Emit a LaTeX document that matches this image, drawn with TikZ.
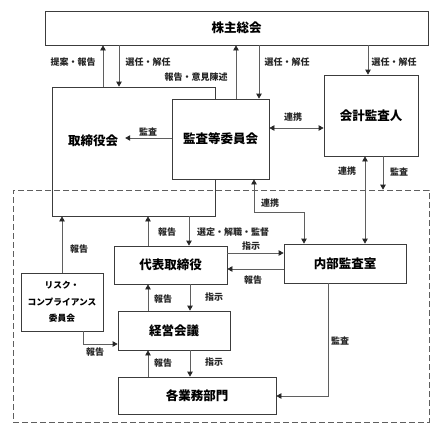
\documentclass[tikz,border=0pt]{standalone}
\usepackage{fontspec}
\setmainfont{Noto Sans CJK JP}
\usetikzlibrary{arrows.meta}
\definecolor{linecol}{RGB}{95,95,95}
\definecolor{boxcol}{RGB}{60,60,60}
\newcommand{\boxfont}{\fontsize{12.5}{15}\selectfont\bfseries}
\newcommand{\lblfont}{\fontsize{9}{11}\selectfont\bfseries}
\newcommand{\riskfont}{\fontsize{8.7}{16.5}\selectfont\bfseries}
\tikzset{
  box/.style={draw=boxcol, line width=0.8pt, fill=white, inner sep=0pt, font=\boxfont},
  lbl/.style={font=\lblfont, inner sep=0pt, text=black!85},
  arr/.style={draw=linecol, line width=0.8pt, -{Triangle[width=5.5pt,length=5pt,color=black!85]}},
  darr/.style={draw=linecol, line width=0.8pt, {Triangle[width=5.5pt,length=5pt,color=black!85]}-{Triangle[width=5.5pt,length=5pt,color=black!85]}},
  grp/.style={draw=linecol, line width=0.7pt, dash pattern=on 6pt off 3pt, inner sep=0pt}
}
\begin{document}
\begin{tikzpicture}[x=1pt,y=-1pt]
\useasboundingbox (0,0) rectangle (444,434);
% x and y guides
\coordinate (c62) at (62,0);
\coordinate (c83) at (83,0);
\coordinate (c103) at (103,0);
\coordinate (c119) at (119,0);
\coordinate (c148) at (148,0);
\coordinate (c189) at (189,0);
\coordinate (c190) at (190,0);
\coordinate (c236) at (236,0);
\coordinate (c254) at (254,0);
\coordinate (c259) at (259,0);
\coordinate (c304) at (304,0);
\coordinate (c328) at (328,0);
\coordinate (c365) at (365,0);
\coordinate (c368) at (368,0);
\coordinate (c383) at (383,0);
\coordinate (y128) at (0,128);
\coordinate (y138) at (0,138);
\coordinate (y212) at (0,212);
\coordinate (y253) at (0,253);
\coordinate (y269) at (0,269);
\coordinate (y344) at (0,344);
\coordinate (y396) at (0,396);
% boxes
\node[box, minimum width=383pt, minimum height=34pt] (kabu) at (236.5,28) {株主総会};
\node[box, fill=none, minimum width=163pt, minimum height=129pt] (tori) at (133.5,151.5) {};
\node[font=\boxfont, inner xsep=7pt, inner ysep=3pt] (torit) at (93,141) {取締役会};
\node[grp, minimum width=416pt, minimum height=232pt] (group) at (221,306) {};
\node[box, minimum width=97pt, minimum height=80pt] (kansa) at (220.5,139) {監査等委員会};
\node[box, minimum width=94pt, minimum height=81pt] (kaikei) at (371,115.5) {会計監査人};
\node[box, minimum width=122pt, minimum height=39pt] (naibu) at (345,263.5) {内部監査室};
\node[box, minimum width=113pt, minimum height=38pt] (daihyo) at (170.5,265) {代表取締役};
\node[box, minimum width=112pt, minimum height=39pt] (keiei) at (174,330.5) {経営会議};
\node[box, minimum width=158pt, minimum height=37pt] (kakugyo) at (197,395.5) {各業務部門};
\node[box, minimum width=82pt, minimum height=58pt, font=\riskfont, align=center] (risk) at (62,302) {リスク・\\コンプライアンス\\委員会};
% connectors
\draw[arr] (tori.north -| c103) -- (kabu.south -| c103);
\draw[arr] (kabu.south -| c119) -- (tori.north -| c119);
\draw[arr] (kansa.north -| c236) -- (kabu.south -| c236);
\draw[arr] (kabu.south -| c259) -- (kansa.north -| c259);
\draw[arr] (kabu.south -| c368) -- (kaikei.north -| c368);
\draw[darr] (kansa.east |- y128) -- (kaikei.west |- y128);
\draw[arr] (kansa.west |- y138) -- (torit.east |- y138);
\draw[darr] (kaikei.south -| c365) -- (naibu.north -| c365);
\draw[arr] (kaikei.south -| c383) -- (group.north -| c383);
\draw[darr] (kansa.south -| c254) |- (c304 |- y212) -- (naibu.north -| c304);
\draw[arr] (daihyo.north -| c148) -- (tori.south -| c148);
\draw[arr] (tori.south -| c189) -- (daihyo.north -| c189);
\draw[arr] (daihyo.east |- y253) -- (naibu.west |- y253);
\draw[arr] (naibu.west |- y269) -- (daihyo.east |- y269);
\draw[arr] (keiei.north -| c148) -- (daihyo.south -| c148);
\draw[arr] (daihyo.south -| c190) -- (keiei.north -| c190);
\draw[arr] (kakugyo.north -| c148) -- (keiei.south -| c148);
\draw[arr] (keiei.south -| c190) -- (kakugyo.north -| c190);
\draw[arr] (risk.north -| c62) -- (tori.south -| c62);
\draw[arr] (risk.south -| c83) |- (keiei.west |- y344);
\draw[arr] (naibu.south -| c328) |- (kakugyo.east |- y396);
% labels
\node[lbl] (l1) at (73,62) {提案・報告};
\node[lbl] (l2) at (148,62) {選任・解任};
\node[lbl] (l3) at (196,77) {報告・意見陳述};
\node[lbl] (l4) at (287,62) {選任・解任};
\node[lbl] (l5) at (394,62) {選任・解任};
\node[lbl] (l6) at (148,132) {監査};
\node[lbl] (l7) at (293,117) {連携};
\node[lbl] (l8) at (347,171) {連携};
\node[lbl] (l9) at (399,172) {監査};
\node[lbl] (l10) at (270,203) {連携};
\node[lbl] (l11) at (167,232) {報告};
\node[lbl] (l12) at (233,232) {選定・解職・監督};
\node[lbl] (l13) at (251,246) {指示};
\node[lbl] (l14) at (253,280) {報告};
\node[lbl] (l15) at (163,299) {報告};
\node[lbl] (l16) at (214,297) {指示};
\node[lbl] (l17) at (163,363) {報告};
\node[lbl] (l18) at (214,362) {指示};
\node[lbl] (l19) at (340,341) {監査};
\node[lbl] (l20) at (79,249) {報告};
\node[lbl] (l21) at (95,352) {報告};
\end{tikzpicture}
\end{document}
